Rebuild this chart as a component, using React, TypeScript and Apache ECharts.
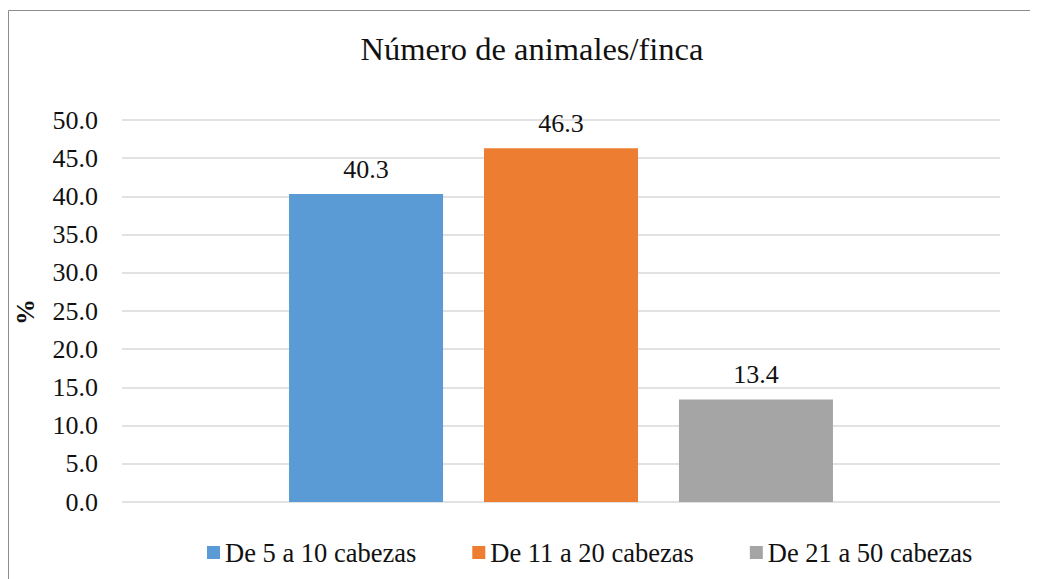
import React, { useEffect, useRef } from "react";
import * as echarts from "echarts";

const titleText = "Número de animales/finca";
const yAxisTitle = "%";
const categories = [""];
const seriesNames = ["De 5 a 10 cabezas", "De 11 a 20 cabezas", "De 21 a 50 cabezas"];
const seriesValues = [40.3, 46.3, 13.4];
const seriesColors = ["#5B9BD5", "#ED7D31", "#A5A5A5"];
const yMin = 0;
const yMax = 50;
const yInterval = 5;

const FONT = "Times New Roman, Liberation Serif, DejaVu Serif, serif";

export default function App() {
  const ref = useRef<HTMLDivElement>(null);
  useEffect(() => {
    if (!ref.current) return;
    const chart = echarts.init(ref.current, undefined, { renderer: "svg" });
    const option: any = {
      animation: false,
      backgroundColor: "#ffffff",
      textStyle: { fontFamily: FONT },
      grid: { left: 114, right: 38, top: 112, bottom: 77, containLabel: false },
      legend: {
        left: 194,
        top: 526,
        itemWidth: 13,
        itemHeight: 13,
        itemGap: 56,
        icon: "rect",
        textStyle: { fontFamily: FONT, fontSize: 26.5, color: "#111" },
        data: seriesNames,
      },
      xAxis: {
        type: "category",
        data: categories,
        axisLine: { show: false },
        axisTick: { show: false },
        axisLabel: { show: false },
      },
      yAxis: {
        type: "value",
        min: yMin,
        max: yMax,
        interval: yInterval,
        axisLine: { show: false },
        axisTick: { show: false },
        axisLabel: {
          margin: 24,
          fontFamily: FONT,
          fontSize: 26,
          color: "#111",
          formatter: (v: number) => v.toFixed(1),
        },
        splitLine: { lineStyle: { color: "#d9d9d9", width: 1.5 } },
      },
      series: seriesNames.map((name, i) => ({
        name,
        type: "bar",
        barWidth: 154,
        barGap: "26.6%",
        itemStyle: { color: seriesColors[i] },
        data: categories.map(() => seriesValues[i]),
        label: {
          show: true,
          position: "top",
          distance: 12,
          fontFamily: FONT,
          fontSize: 26,
          color: "#111",
          formatter: (p: any) => Number(p.value).toFixed(1),
        },
      })),
      graphic: [
        {
          type: "polyline",
          silent: true,
          shape: { points: [[0.5, 1000], [0.5, 2.5], [1200, 2.5]] },
          style: { stroke: "#8c8c8c", lineWidth: 1, fill: null },
        },
        {
          type: "text",
          x: 524,
          y: 41,
          style: {
            text: titleText,
            fontFamily: FONT,
            fontSize: 32.5,
            fill: "#111",
            align: "center",
            verticalAlign: "middle",
          },
        },
        {
          type: "text",
          x: 17,
          y: 304,
          rotation: Math.PI / 2,
          style: {
            text: yAxisTitle,
            fontFamily: FONT,
            fontSize: 26,
            fontWeight: "bold",
            fill: "#111",
            align: "center",
            verticalAlign: "middle",
          },
        },
      ],
    };
    chart.setOption(option);
    return () => chart.dispose();
  }, []);
  return <div ref={ref} style={{ width: 1030, height: 571 }} />;
}
